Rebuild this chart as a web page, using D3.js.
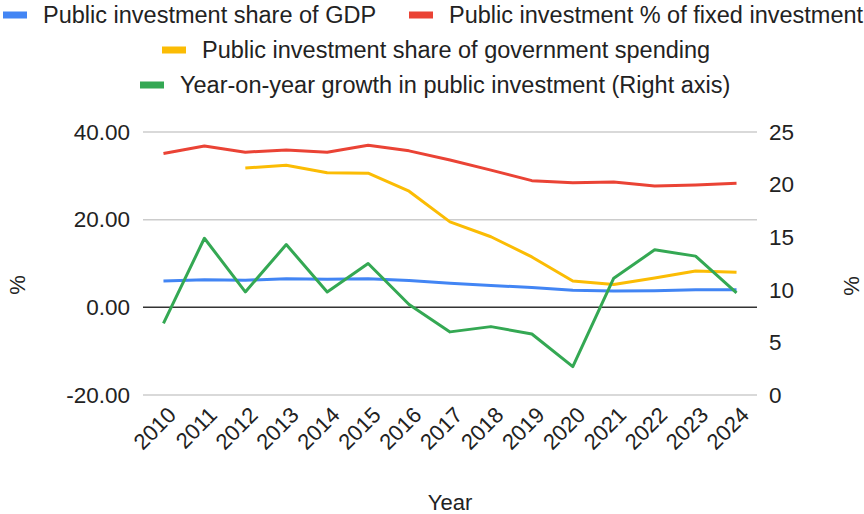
<!DOCTYPE html>
<html>
<head>
<meta charset="utf-8">
<script src="https://cdn.jsdelivr.net/npm/d3@7"></script>
<style>
  body { margin: 0; background: #fff; }
  svg text { font-family: Arial, "Liberation Sans", sans-serif; fill: #222; }
</style>
</head>
<body>
<svg id="chart" width="864" height="514"></svg>
<script>
const years = [2010, 2011, 2012, 2013, 2014, 2015, 2016, 2017, 2018, 2019, 2020, 2021, 2022, 2023, 2024];
const gdpShare = [6.0, 6.3, 6.2, 6.5, 6.4, 6.5, 6.1, 5.5, 5.0, 4.5, 3.9, 3.7, 3.8, 4.0, 4.0];
const fixedShare = [35.1, 36.8, 35.4, 35.9, 35.4, 37.0, 35.7, 33.6, 31.3, 28.9, 28.4, 28.6, 27.7, 27.9, 28.3];
const govShare = [null, null, 31.8, 32.4, 30.7, 30.6, 26.5, 19.5, 16.1, 11.5, 6.0, 5.2, 6.7, 8.3, 8.0];
const yoyGrowth = [6.8, 14.9, 9.8, 14.3, 9.8, 12.5, 8.6, 6.0, 6.5, 5.8, 2.7, 11.1, 13.8, 13.2, 9.7];
const leftTicks = [-20, 0, 20, 40];
const rightTicks = [0, 5, 10, 15, 20, 25];

const seriesNames = [
    "Public investment share of GDP",
    "Public investment % of fixed investment",
    "Public investment share of government spending",
    "Year-on-year growth in public investment (Right axis)"
];
const colors = ["#4285f4", "#ea4335", "#fbbc04", "#34a853"];

const margin = {top: 132, right: 107, bottom: 119, left: 143};
const width = 864 - margin.left - margin.right;
const height = 514 - margin.top - margin.bottom;

let svg = d3.select('#chart');
let plot = svg.append('g')
    .attr('transform', 'translate(' + margin.left + ',' + margin.top + ')');

let x = d3.scalePoint().domain(years).range([0, width]).padding(0.5);
let yLeft = d3.scaleLinear().domain([-20, 40]).range([height, 0]);
let yRight = d3.scaleLinear().domain([0, 25]).range([height, 0]);

// gridlines
plot.append('g').selectAll('line')
    .data(leftTicks)
    .join('line')
    .attr('x1', 0).attr('x2', width)
    .attr('y1', d => yLeft(d)).attr('y2', d => yLeft(d))
    .attr('stroke', d => d === 0 ? '#333' : '#ccc')
    .attr('stroke-width', 1.5);

// left axis, plain hyphen for the minus sign
let fmt2 = d3.format('.2f');
plot.append('g')
    .call(d3.axisLeft(yLeft).tickValues(leftTicks).tickFormat(d => fmt2(d).replace('\u2212', '-')).tickSize(0).tickPadding(13))
    .call(g => g.select('.domain').remove())
    .selectAll('text').style('font-size', '22.5px');

// right axis
plot.append('g')
    .attr('transform', 'translate(' + width + ',0)')
    .call(d3.axisRight(yRight).tickValues(rightTicks).tickSize(0).tickPadding(12))
    .call(g => g.select('.domain').remove())
    .selectAll('text').style('font-size', '22.5px');

// x axis
plot.append('g')
    .attr('transform', 'translate(0,' + height + ')')
    .call(d3.axisBottom(x).tickSize(0))
    .call(g => g.select('.domain').remove())
    .selectAll('text')
    .style('font-size', '22px')
    .attr('text-anchor', 'end')
    .attr('x', 0).attr('y', 0)
    .attr('dy', '0.35em')
    .attr('transform', 'translate(8,16) rotate(-45)');

// lines
let lineLeft = d3.line()
    .defined(d => d.v !== null)
    .x(d => x(d.year))
    .y(d => yLeft(d.v));
let lineRight = d3.line()
    .x(d => x(d.year))
    .y(d => yRight(d.v));

let leftSeries = [gdpShare, fixedShare, govShare];
leftSeries.forEach((vals, i) => {
    plot.append('path')
        .datum(years.map((yr, j) => ({year: yr, v: vals[j]})))
        .attr('fill', 'none')
        .attr('stroke', colors[i])
        .attr('stroke-width', 3)
        .attr('stroke-linejoin', 'round')
        .attr('d', lineLeft);
});
plot.append('path')
    .datum(years.map((yr, j) => ({year: yr, v: yoyGrowth[j]})))
    .attr('fill', 'none')
    .attr('stroke', colors[3])
    .attr('stroke-width', 3)
    .attr('stroke-linejoin', 'round')
    .attr('d', lineRight);

// axis titles
svg.append('text')
    .attr('transform', 'translate(25,285) rotate(-90)')
    .attr('text-anchor', 'middle')
    .style('font-size', '22px')
    .text('%');
svg.append('text')
    .attr('transform', 'translate(859,286) rotate(-90)')
    .attr('text-anchor', 'middle')
    .style('font-size', '22px')
    .text('%');
svg.append('text')
    .attr('x', 450).attr('y', 510)
    .attr('text-anchor', 'middle')
    .style('font-size', '22px')
    .text('Year');

// legend
const legendPos = [
    {x: 3, y: 15},
    {x: 409, y: 15},
    {x: 162, y: 50},
    {x: 140, y: 85}
];
let legend = svg.append('g');
seriesNames.forEach((name, i) => {
    let g = legend.append('g').attr('transform', 'translate(' + legendPos[i].x + ',' + legendPos[i].y + ')');
    g.append('rect')
        .attr('x', 0).attr('y', -3.5)
        .attr('width', 24).attr('height', 7)
        .attr('fill', colors[i]);
    g.append('text')
        .attr('x', 40).attr('y', 0)
        .attr('dy', '0.35em')
        .style('font-size', '23.5px')
        .text(name);
});
</script>
</body>
</html>
